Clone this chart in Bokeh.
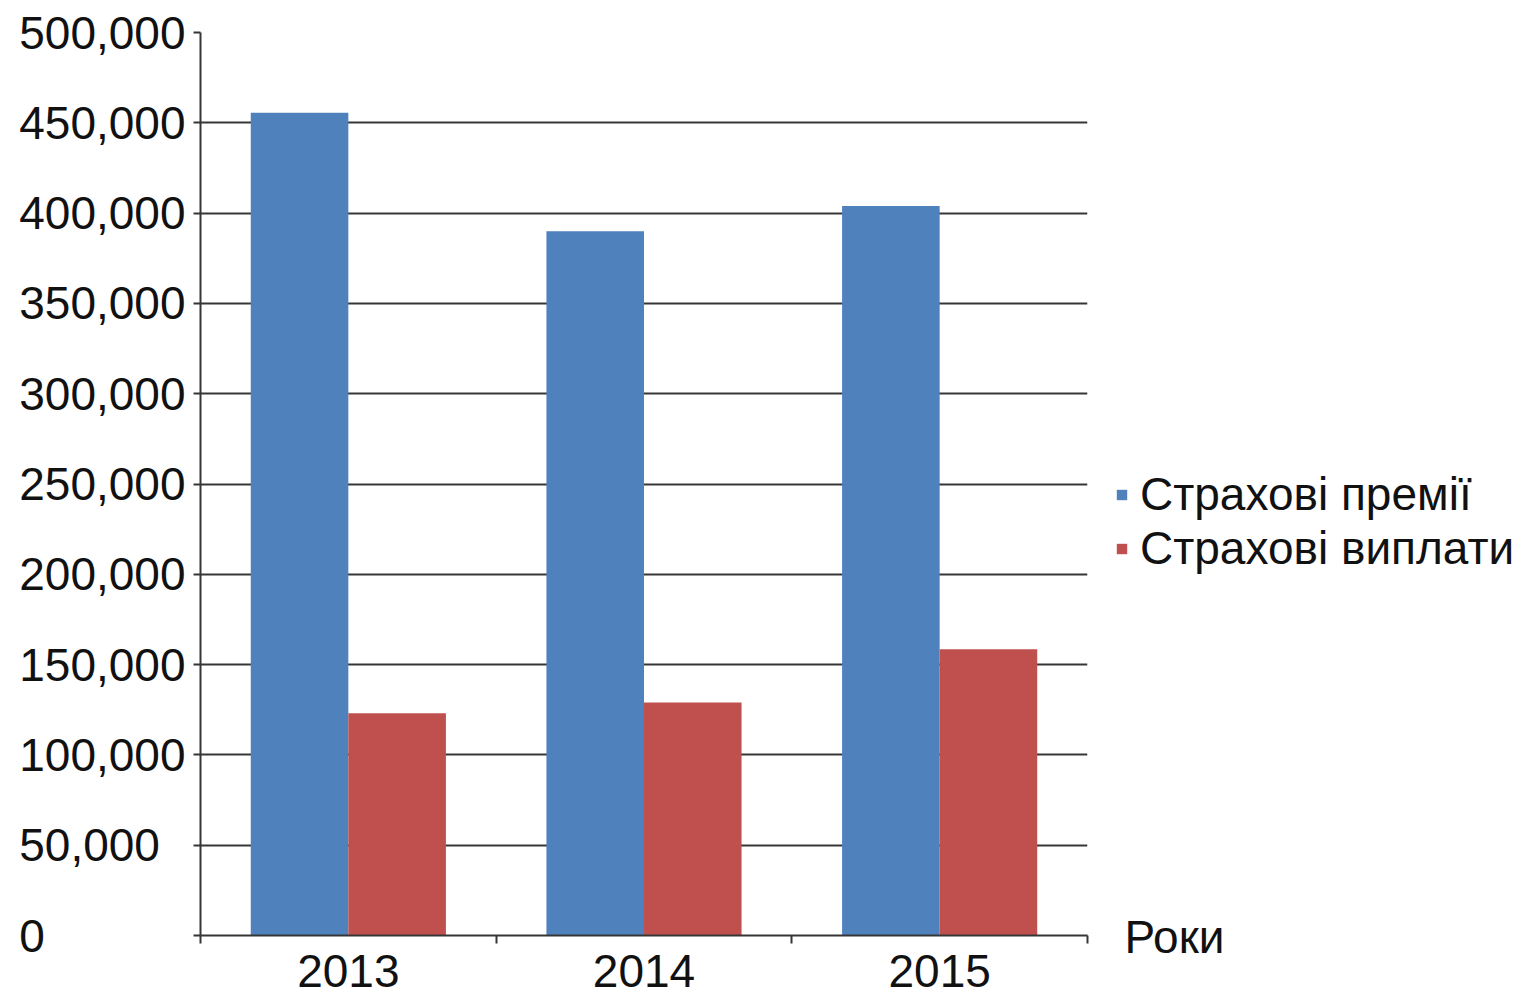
from bokeh.plotting import figure
from bokeh.layouts import row
from bokeh.models import (FactorRange, Range1d, LinearAxis, FixedTicker,
                          Legend, LegendItem, ColumnDataSource)
from bokeh.transform import dodge
from bokeh.embed import file_html
from bokeh.resources import INLINE

# ---- data ----
years = ["2013", "2014", "2015"]
premiums = [455500, 390000, 404000]
payouts = [123000, 129000, 158500]
series_names = ["Страхові премії", "Страхові виплати"]
series_colors = ["#4F81BD", "#C0504D"]
y_ticks = list(range(0, 500001, 50000))
x_axis_title = "Роки"

FONT = "Liberation Sans"
FS = "46px"
LINE = "#363636"
TXT = "#111111"

src = ColumnDataSource(dict(year=years, prem=premiums, pay=payouts))

# ---------------- main chart ----------------
p = figure(width=1090, height=997,
           x_range=FactorRange(factors=years, range_padding=0),
           y_range=Range1d(0, max(y_ticks)),
           x_axis_type=None,
           output_backend="svg", toolbar_location=None,
           min_border_left=200, min_border_top=32,
           min_border_bottom=62, min_border_right=3)
p.outline_line_color = None

bw = 0.33
r1 = p.vbar(x=dodge("year", -bw / 2, range=p.x_range), top="prem", width=bw,
            source=src, fill_color=series_colors[0], line_color=None)
r2 = p.vbar(x=dodge("year", bw / 2, range=p.x_range), top="pay", width=bw,
            source=src, fill_color=series_colors[1], line_color=None)

# y axis (labels left-aligned as in the original, via figure-space padding)
def ylab(t):
    s = f"{t:,}"
    ref = f"{max(y_ticks):,}"
    nd = sum(c.isdigit() for c in ref) - sum(c.isdigit() for c in s)
    nc = ref.count(",") - s.count(",")
    return s + "\u2007" * nd + "\u2008" * nc

ya = p.yaxis[0]
ya.ticker = FixedTicker(ticks=y_ticks)
ya.major_label_overrides = {t: ylab(t) for t in y_ticks}
ya.major_tick_out = 7
ya.major_tick_in = 0
ya.minor_tick_out = 0
ya.minor_tick_in = 0
ya.axis_line_color = LINE
ya.axis_line_width = 2
ya.major_tick_line_color = LINE
ya.major_tick_line_width = 2
ya.major_label_standoff = 8
ya.major_label_text_font = FONT
ya.major_label_text_font_size = FS
ya.major_label_text_color = TXT

p.ygrid.ticker = FixedTicker(ticks=y_ticks)
p.ygrid.grid_line_color = LINE
p.ygrid.grid_line_width = 2

# x axis: labels at category centres, ticks at category boundaries
n = len(years)
xa = LinearAxis(
    ticker=FixedTicker(ticks=[i + 0.5 for i in range(n)],
                       minor_ticks=list(range(n + 1))),
    major_label_overrides={i + 0.5: y for i, y in enumerate(years)},
    major_tick_out=0, major_tick_in=0,
    minor_tick_out=8, minor_tick_in=0,
    axis_line_color=LINE, axis_line_width=2,
    minor_tick_line_color=LINE, minor_tick_line_width=2,
    major_label_standoff=11,
    major_label_text_font=FONT, major_label_text_font_size=FS,
    major_label_text_color=TXT,
)
p.add_layout(xa, "below")

# ---------------- side panel: legend + axis title ----------------
side_w = 444
p2 = figure(width=side_w, height=997,
            x_range=Range1d(0, side_w), y_range=p.y_range,
            x_axis_type=None, y_axis_type=None,
            output_backend="svg", toolbar_location=None,
            min_border=0, min_border_top=32, min_border_bottom=62)
p2.outline_line_color = None
p2.xgrid.visible = False
p2.ygrid.visible = False

# legend proxies (lie outside the visible x-range of the side panel)
proxy1 = p2.vbar(x="prem", top="prem", width=1, source=src,
                 fill_color=series_colors[0], line_color=None)
proxy2 = p2.vbar(x="pay", top="pay", width=1, source=src,
                 fill_color=series_colors[1], line_color=None)

legend = Legend(
    items=[LegendItem(label=series_names[0], renderers=[proxy1]),
           LegendItem(label=series_names[1], renderers=[proxy2])],
    location=(25, 360), padding=0, margin=0, spacing=0,
    glyph_width=13, glyph_height=13, label_standoff=12,
    label_text_font=FONT, label_text_font_size=FS,
    label_text_color=TXT,
    border_line_alpha=0, background_fill_alpha=0,
)
p2.add_layout(legend, "center")

# axis title "Роки" at the level of the x axis, right of the plot
title_x = 84
ta = LinearAxis(
    ticker=FixedTicker(ticks=[title_x], minor_ticks=[]),
    major_label_overrides={title_x: x_axis_title},
    axis_line_color=None, major_tick_line_color=None,
    minor_tick_line_color=None,
    major_tick_out=0, major_tick_in=0, minor_tick_out=0, minor_tick_in=0,
    major_label_standoff=-25,
    major_label_text_font=FONT, major_label_text_font_size=FS,
    major_label_text_color=TXT,
)
p2.add_layout(ta, "below")

layout = row(p, p2)
open("out.html", "w").write(file_html(layout, INLINE))
